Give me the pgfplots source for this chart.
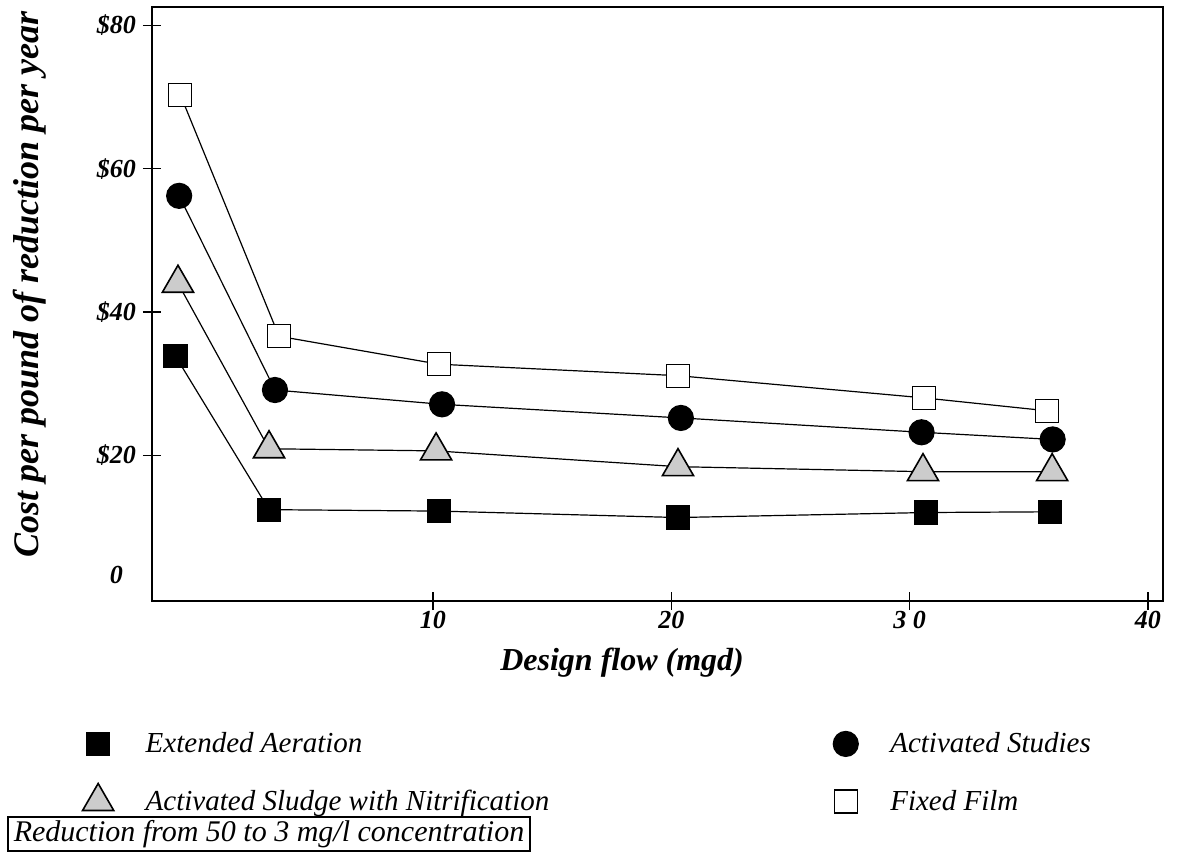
\documentclass[border=0pt]{standalone}
\usepackage{fontspec}
\setmainfont{Liberation Serif}
\usepackage{pgfplots}
\pgfplotsset{compat=1.18}
\begin{document}
\begin{tikzpicture}
\useasboundingbox (-76pt,-125.5pt) rectangle (514pt,300.5pt);
\begin{axis}[
    scale only axis,
    width=505.5pt, height=297pt,
    xmin=-1.79, xmax=40.63,
    ymin=-0.35, ymax=82.56,
    axis line style={line width=0.7pt},
    xtick={10,20,30,40}, xticklabels={10,20,{3 0},40},
    ytick={20,40,60,80}, yticklabels={\$20,\$40,\$60,\$80},
    extra y ticks={3.3}, extra y tick labels={0},
    extra y tick style={major tick length=0pt, yticklabel style={xshift=-11pt}},
    xtick pos=bottom, ytick pos=left,
    tick align=center, major tick length=9pt,
    tick style={line width=0.6pt, black},
    ticklabel style={font=\fontsize{13}{15}\selectfont\bfseries\itshape},
    xticklabel style={yshift=3pt},
    /pgf/number format/assume math mode=true,
    xlabel={Design flow (mgd)},
    xlabel style={at={(axis description cs:0.465,0)}, anchor=center, yshift=-31pt,
        font=\fontsize{16}{18}\selectfont\bfseries\itshape},
    ylabel={Cost per pound of reduction per year},
    ylabel style={at={(axis description cs:-0.1210,0.533)}, anchor=center,
        font=\fontsize{18}{20}\selectfont\bfseries\itshape},
    legend columns=2,
    legend cell align=left,
    legend image code/.code={\draw[#1, only marks] plot coordinates {(0.25cm,0cm)};},
    legend style={at={(axis description cs:-0.075,-0.207)}, anchor=north west,
        draw=none, fill=none, row sep=12pt,
        font=\fontsize{14.5}{16}\selectfont\itshape,
        /tikz/every odd column/.append style={column sep=14pt},
        /tikz/every even column/.append style={column sep=140pt}},
]
% Extended Aeration
\addplot[black, line width=0.6pt, mark=square*, mark size=5.75pt,
    mark options={fill=black}] coordinates {
    (-0.8,33.8) (3.12,12.4) (10.25,12.2) (20.28,11.3) (30.7,12.0) (35.9,12.1)
};
\addlegendentry{Extended Aeration}
% Activated Studies
\addplot[black, line width=0.6pt, mark=*, mark size=6.25pt,
    mark options={fill=black}] coordinates {
    (-0.65,56.2) (3.37,29.1) (10.38,27.1) (20.4,25.2) (30.5,23.2) (36.0,22.2)
};
\addlegendentry{Activated Studies}
% Activated Sludge with Nitrification
\addplot[black, line width=0.6pt, mark=triangle*, mark size=9pt,
    mark options={fill=gray!40, line width=0.8pt}] coordinates {
    (-0.7,44.0) (3.12,20.9) (10.13,20.6) (20.28,18.4) (30.56,17.7) (35.98,17.7)
};
\addlegendentry{Activated Sludge with Nitrification}
% Fixed Film
\addplot[black, line width=0.6pt, mark=square*, mark size=5.75pt,
    mark options={fill=white}] coordinates {
    (-0.6,70.3) (3.54,36.6) (10.25,32.7) (20.28,31.1) (30.6,28.0) (35.77,26.2)
};
\addlegendentry{Fixed Film}
\end{axis}
\node[draw, line width=0.6pt, minimum width=261pt, minimum height=17pt,
    inner sep=0pt, font=\fontsize{15}{17}\selectfont\itshape]
    at (58.5pt,-116.5pt) {Reduction from 50 to 3 mg/l concentration};
\end{tikzpicture}
\end{document}
